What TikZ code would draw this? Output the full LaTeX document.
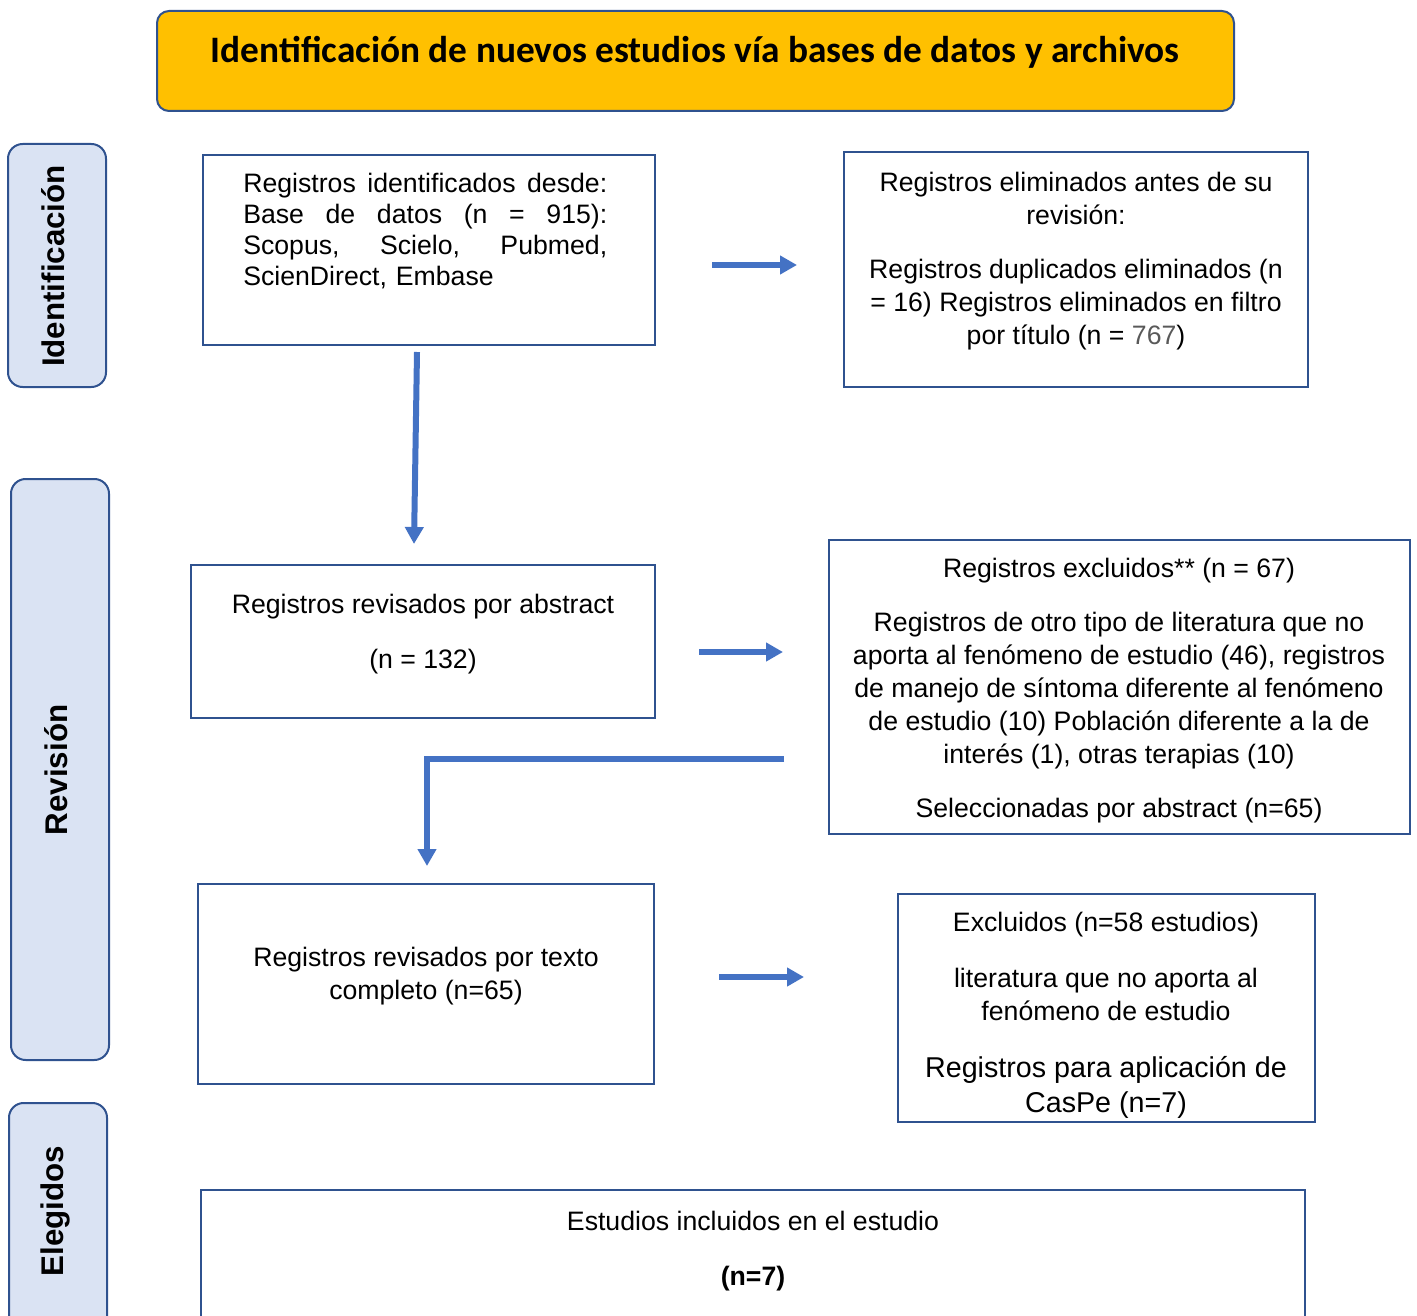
\documentclass[tikz,border=0pt]{standalone}
\usepackage{fontspec}
\setmainfont{Liberation Sans}
\newfontfamily\calibri{Carlito}
\usetikzlibrary{arrows.meta}
\definecolor{azul}{RGB}{68,114,196}
\definecolor{borde}{RGB}{47,82,143}
\definecolor{ambar}{RGB}{255,192,0}
\definecolor{celeste}{RGB}{218,227,243}
\definecolor{gris}{RGB}{89,89,89}
\newcommand{\txtcaja}{\fontsize{20}{24.75}\selectfont}
\newcommand{\espacionatural}{\spaceskip=\fontdimen2\font\relax}

\begin{document}
\begin{tikzpicture}[x=0.75pt,y=0.75pt,yscale=-1,xscale=1,
    caja/.style={draw=borde,line width=1.5pt},
    fase/.style={draw=borde,line width=1.5pt,fill=celeste,rounded corners=11pt},
    fasetxt/.style={rotate=90,inner sep=0pt,font=\bfseries\fontsize{23.5}{28}\selectfont},
    texto/.style={anchor=base,inner sep=0pt,align=center,font=\txtcaja,
        execute at begin node=\espacionatural},
    flecha/.style={draw=azul,line width=4.5pt,-{Triangle[length=12.75pt,width=13.5pt]}}]
        \useasboundingbox (0,0) rectangle (1417,1316);
        \clip (0,0) rectangle (1417,1316);

        % titulo
        \draw [draw=borde,line width=1.5pt,fill=ambar,rounded corners=9pt] (157,11) rectangle (1234,111);
        \node (titulo) at (695,52) [inner sep=0pt,font=\calibri\bfseries\fontsize{28}{34}\selectfont] {Identificación de nuevos estudios vía bases de datos y archivos};

        % fases
        \draw [fase] (8,144) rectangle (106,387);
        \draw [fase] (11,479) rectangle (109,1060);
        \draw [fase] (9,1103) rectangle (107,1350);
        \node (fIdent) at (53,266) [fasetxt] {Identificación};
        \node (fRev) at (56,770) [fasetxt] {Revisión};
        \node (fEleg) at (55,1211) [fasetxt] {Elegidos};

        % cajas
        \draw [caja] (203,155) rectangle (655,345);
        \draw [caja] (844,152) rectangle (1308,387);
        \draw [caja] (191,565) rectangle (655,718);
        \draw [caja] (829,540) rectangle (1410,834);
        \draw [caja] (198,884) rectangle (654,1084);
        \draw [caja] (898,894) rectangle (1315,1122);
        \draw [caja] (201,1190) rectangle (1305,1350);

        \node (identificados) at (243,193) [anchor=base west,inner sep=0pt,text width=273pt,align=left,font=\fontsize{20}{23.25}\selectfont]
            {\makebox[273pt]{Registros\hfill identificados\hfill desde:}\\
             \makebox[273pt]{Base\hfill de\hfill datos\hfill (n\hfill =\hfill 915):}\\
             \makebox[273pt]{Scopus,\hfill Scielo,\hfill Pubmed,}\\
             ScienDirect, Embase};
        \node (eliminados) at (1076,192) [texto,text width=330pt]
            {Registros eliminados antes de su\\ revisión:\\[15.75pt]
             Registros duplicados eliminados (n\\ = 16) Registros eliminados en filtro\\ por título (n = \textcolor{gris}{767})};
        \node (abstract) at (423,613) [texto,text width=330pt]
            {Registros revisados por abstract\\[16.5pt] (n = 132)};
        \node (excluidos) at (1119,577) [texto,text width=420pt]
            {Registros excluidos** (n = 67)\\[15.75pt]
             Registros de otro tipo de literatura que no\\
             aporta al fenómeno de estudio (46), registros\\
             de manejo de síntoma diferente al fenómeno\\
             de estudio (10) Población diferente a la de\\
             interés (1), otras terapias (10)\\[15.75pt]
             Seleccionadas por abstract (n=65)};
        \node (completo) at (426,966) [texto,text width=330pt]
            {Registros revisados por texto\\ completo (n=65)};
        \node (excl58) at (1106,931) [texto,text width=300pt]
            {Excluidos (n=58 estudios)\\[17.25pt]
             literatura que no aporta al\\ fenómeno de estudio};
        \begin{scope}
            \clip (898,894) rectangle (1315,1122);
            \node (caspe) at (1106,1077) [texto,text width=300pt,font=\fontsize{21.5}{26.25}\selectfont]
                {Registros para aplicación de\\ CasPe (n=7)};
        \end{scope}
        \node (incluidos) at (753,1230) [texto,text width=400pt]
            {Estudios incluidos en el estudio\\[16.5pt] \textbf{(n=7)}};

        % flechas
        \coordinate (f1a) at (712,265);
        \coordinate (f1b) at (797,265);
        \coordinate (f2a) at (417,352);
        \coordinate (f2b) at (414,544);
        \coordinate (f3a) at (699,652);
        \coordinate (f3b) at (783,652);
        \coordinate (f4a) at (784,759);
        \coordinate (f4b) at (427,759);
        \coordinate (f4c) at (427,866);
        \coordinate (f5a) at (719,977);
        \coordinate (f5b) at (804,977);
        \draw [flecha] (f1a) -- (f1b);
        \draw [flecha] (f2a) -- (f2b);
        \draw [flecha] (f3a) -- (f3b);
        \draw [flecha] (f4a) -- (f4b) -- (f4c);
        \draw [flecha] (f5a) -- (f5b);
\end{tikzpicture}
\end{document}
